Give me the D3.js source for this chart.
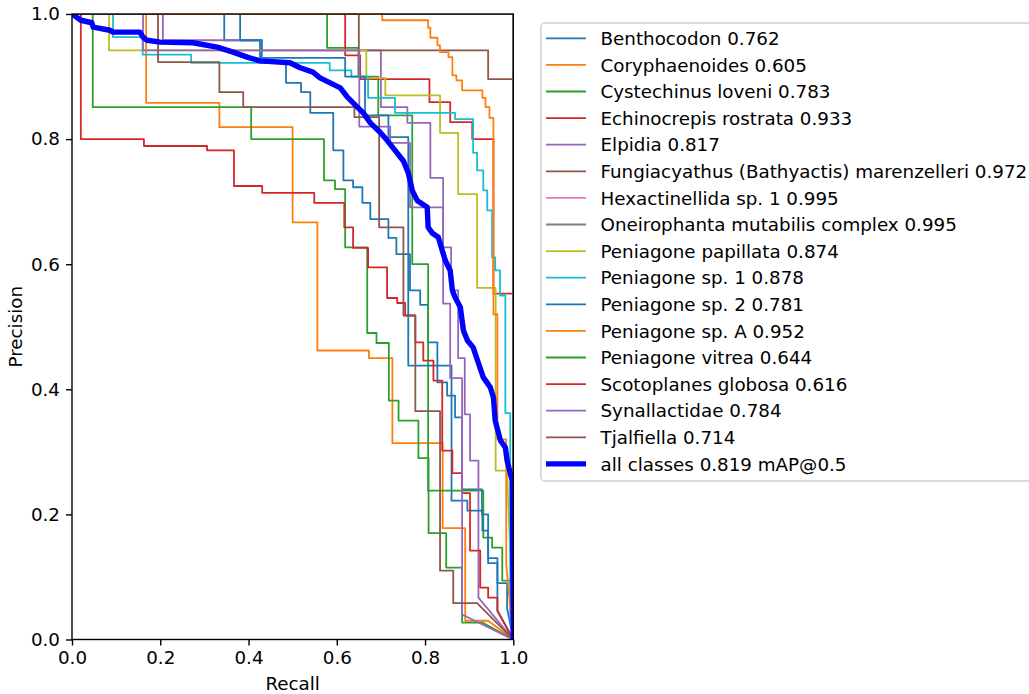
<!DOCTYPE html>
<html>
<head>
<meta charset="utf-8">
<script src="https://cdn.jsdelivr.net/npm/d3@7/dist/d3.min.js"></script>
<style>
  html, body { margin: 0; padding: 0; background: #fff; }
  svg { display: block; font-family: "DejaVu Sans", sans-serif; }
</style>
</head>
<body>
<svg id="chart" width="1029" height="694"></svg>
<script>
// Per-class precision-recall steps: each [recall, precision] marks where precision drops.
const classNames = [
  "Benthocodon", "Coryphaenoides", "Cystechinus loveni", "Echinocrepis rostrata",
  "Elpidia", "Fungiacyathus (Bathyactis) marenzelleri", "Hexactinellida sp. 1",
  "Oneirophanta mutabilis complex", "Peniagone papillata", "Peniagone sp. 1",
  "Peniagone sp. 2", "Peniagone sp. A", "Peniagone vitrea", "Scotoplanes globosa",
  "Synallactidae", "Tjalfiella"
];
const classAP = [0.762, 0.605, 0.783, 0.933, 0.817, 0.972, 0.995, 0.995,
                 0.874, 0.878, 0.781, 0.952, 0.644, 0.616, 0.784, 0.714];
const classColors = ["#1f77b4", "#ff7f0e", "#2ca02c", "#d62728", "#9467bd", "#8c564b",
                     "#e377c2", "#7f7f7f", "#bcbd22", "#17becf", "#1f77b4", "#ff7f0e",
                     "#2ca02c", "#d62728", "#9467bd", "#8c564b"];

const benthocodon = [[0,1],[0.345,0.958],[0.426,0.922],[0.485,0.89],[0.519,0.875],[0.54,0.842],
  [0.592,0.782],[0.615,0.734],[0.637,0.723],[0.658,0.698],[0.676,0.672],[0.717,0.642],
  [0.735,0.616],[0.766,0.558],[0.789,0.535],[0.807,0.475],[0.828,0.411],[0.85,0.39],
  [0.868,0.355],[0.884,0.24],[0.929,0.2],[0.943,0.13],[0.964,0.09],[0.986,0.05]];
const coryphaenoides = [[0,1],[0.168,0.858],[0.334,0.819],[0.5,0.667],[0.556,0.462],
  [0.673,0.45],[0.726,0.314],[0.84,0.178],[0.891,0.03],[0.943,0.03]];
const cystechinus = [[0,1],[0.578,0.946],[0.649,0.9],[0.694,0.838],[0.771,0.6],[0.807,0.238],
  [0.932,0.163],[0.952,0.147],[0.975,0.094],[0.993,0.094]];
const echinocrepis = [[0,1],[0.619,0.934],[0.653,0.896],[0.81,0.859],[0.857,0.827],
  [0.907,0.8],[0.955,0.553],[1,0.553]];
const elpidia = [[0,1],[0.206,0.958],[0.43,0.942],[0.7,0.851],[0.76,0.826],[0.812,0.738],
  [0.841,0.627],[0.859,0.558],[0.875,0.45],[0.89,0.36],[0.902,0.286],[0.921,0.067]];
const fungiacyathus = [[0,1],[0.65,0.942],[0.943,0.896],[1,0.896]];
const hexactinellida = [[0,1],[1,1]];
const oneirophanta = [[0,1],[1,1]];
const papillata = [[0,1],[0.084,0.942],[0.667,0.898],[0.71,0.87],[0.834,0.81],[0.875,0.712],
  [0.918,0.562],[0.96,0.27],[0.986,0.27]];
const peniagoneSp1 = [[0,1],[0.093,0.963],[0.16,0.935],[0.27,0.922],[0.584,0.91],[0.633,0.9],
  [0.671,0.866],[0.732,0.842],[0.868,0.832],[0.909,0.778],[0.918,0.75],[0.932,0.718],
  [0.941,0.686],[0.952,0.611],[0.959,0.59],[0.97,0.55],[0.982,0.362],[0.993,0.035]];
const peniagoneSp2 = [[0,1],[0.381,0.958],[0.43,0.93],[0.619,0.9],[0.664,0.838],[0.717,0.803],
  [0.762,0.438],[0.86,0.222],[0.896,0.206],[0.93,0.174],[0.943,0.122],[0.964,0.046]];
const peniagoneSpA = [[0,1],[0.703,0.99],[0.807,0.978],[0.812,0.962],[0.828,0.95],[0.834,0.939],
  [0.853,0.931],[0.862,0.902],[0.871,0.894],[0.884,0.878],[0.93,0.866],[0.937,0.851],
  [0.946,0.834],[0.955,0.52],[0.964,0.32],[0.984,0.12]];
const vitrea = [[0,1],[0.047,0.851],[0.406,0.8],[0.571,0.734],[0.596,0.72],[0.619,0.627],
  [0.669,0.49],[0.69,0.474],[0.718,0.382],[0.74,0.35],[0.785,0.29],[0.808,0.17],
  [0.848,0.115],[0.884,0.027],[0.93,0.027]];
const scotoplanes = [[0,1],[0.02,0.8],[0.163,0.789],[0.306,0.782],[0.367,0.725],[0.431,0.714],
  [0.549,0.698],[0.617,0.659],[0.637,0.626],[0.671,0.595],[0.714,0.546],[0.737,0.538],
  [0.755,0.518],[0.778,0.475],[0.796,0.446],[0.819,0.414],[0.839,0.302],[0.862,0.266],
  [0.884,0.234],[0.902,0.142],[0.925,0.083],[0.943,0.067],[0.964,0.046]];
const synallactidae = [[0,1],[0.161,0.942],[0.651,0.82],[0.721,0.794],[0.766,0.691],
  [0.841,0.537],[0.857,0.418],[0.884,0.04]];
const tjalfiella = [[0,1],[0.195,0.923],[0.334,0.875],[0.388,0.851],[0.64,0.835],[0.696,0.659],
  [0.751,0.518],[0.778,0.365],[0.834,0.11],[0.864,0.058],[0.918,0.058]];

// Mean curve over all classes (recall, precision)
const allClasses = [[0,1],[0.02,0.99],[0.045,0.986],[0.048,0.979],[0.086,0.974],[0.093,0.971],
  [0.154,0.971],[0.161,0.963],[0.17,0.958],[0.2,0.955],[0.274,0.954],[0.329,0.947],
  [0.365,0.939],[0.397,0.931],[0.426,0.925],[0.494,0.922],[0.517,0.914],[0.546,0.907],
  [0.562,0.898],[0.585,0.89],[0.608,0.882],[0.624,0.867],[0.637,0.858],[0.66,0.842],
  [0.676,0.826],[0.698,0.811],[0.714,0.798],[0.732,0.782],[0.751,0.765],[0.762,0.746],
  [0.771,0.718],[0.782,0.702],[0.805,0.691],[0.807,0.659],[0.816,0.65],[0.83,0.643],
  [0.839,0.622],[0.846,0.606],[0.857,0.59],[0.862,0.558],[0.868,0.547],[0.88,0.531],
  [0.887,0.494],[0.896,0.478],[0.909,0.467],[0.921,0.442],[0.932,0.419],[0.948,0.403],
  [0.955,0.387],[0.959,0.35],[0.971,0.318],[0.982,0.307],[0.986,0.286],[0.993,0.266],
  [0.998,0.254],[1,0]];
const allClassesLabel = "all classes 0.819 mAP@0.5";

const classCurves = [benthocodon, coryphaenoides, cystechinus, echinocrepis, elpidia,
  fungiacyathus, hexactinellida, oneirophanta, papillata, peniagoneSp1, peniagoneSp2,
  peniagoneSpA, vitrea, scotoplanes, synallactidae, tjalfiella];

const tickValues = [0, 0.2, 0.4, 0.6, 0.8, 1.0];

const svg = d3.select("#chart");
const x = d3.scaleLinear().domain([0, 1]).range([72, 513.3]);
const y = d3.scaleLinear().domain([0, 1]).range([639.5, 14]);

svg.append("rect").attr("width", 1029).attr("height", 694).attr("fill", "#fff");

svg.append("defs").append("clipPath").attr("id", "plotClip")
  .append("rect")
  .attr("x", x(0)).attr("y", y(1))
  .attr("width", x(1) - x(0)).attr("height", y(0) - y(1));

// Expand drop points into a step path that ends with a straight run to (1, 0)
function stepPath(pts) {
  const out = [];
  pts.forEach((p, i) => {
    if (i > 0) out.push([p[0], pts[i - 1][1]]);
    out.push(p);
  });
  out.push([1, 0]);
  return out;
}

const line = d3.line().x(d => x(d[0])).y(d => y(d[1]));

const plot = svg.append("g").attr("clip-path", "url(#plotClip)");

plot.selectAll("path.cls")
  .data(classCurves)
  .join("path")
  .attr("class", "cls")
  .attr("d", d => line(stepPath(d)))
  .attr("fill", "none")
  .attr("stroke", (d, i) => classColors[i])
  .attr("stroke-width", 1.8)
  .attr("stroke-linejoin", "round");

plot.append("path")
  .attr("d", line(allClasses))
  .attr("fill", "none")
  .attr("stroke", "#0000ff")
  .attr("stroke-width", 5.4)
  .attr("stroke-linejoin", "round");

// Axes
const fmt = d3.format(".1f");
const xAxis = svg.append("g")
  .attr("transform", `translate(0,${y(0)})`)
  .call(d3.axisBottom(x).tickValues(tickValues).tickFormat(fmt).tickSize(6).tickPadding(6).tickSizeOuter(0));
const yAxis = svg.append("g")
  .attr("transform", `translate(${x(0)},0)`)
  .call(d3.axisLeft(y).tickValues(tickValues).tickFormat(fmt).tickSize(6).tickPadding(6).tickSizeOuter(0));

[xAxis, yAxis].forEach(g => {
  g.select(".domain").remove();
  g.selectAll(".tick line").attr("stroke", "#000").attr("stroke-width", 1.4);
  g.selectAll(".tick text")
    .attr("fill", "#000")
    .style("font-size", "18.3px")
    .style("font-family", "'DejaVu Sans', sans-serif");
});

// Frame
svg.append("rect")
  .attr("x", x(0)).attr("y", y(1))
  .attr("width", x(1) - x(0)).attr("height", y(0) - y(1))
  .attr("fill", "none").attr("stroke", "#000").attr("stroke-width", 1.4);

svg.append("text")
  .attr("x", (x(0) + x(1)) / 2).attr("y", 690)
  .attr("text-anchor", "middle")
  .style("font-size", "18.3px")
  .text("Recall");

svg.append("text")
  .attr("transform", `translate(22,${(y(0) + y(1)) / 2}) rotate(-90)`)
  .attr("text-anchor", "middle")
  .style("font-size", "18.3px")
  .text("Precision");

// Legend
const legend = svg.append("g");
legend.append("rect")
  .attr("x", 541).attr("y", 23)
  .attr("width", 520).attr("height", 458)
  .attr("rx", 4)
  .attr("fill", "#fff")
  .attr("stroke", "#d0d0d0")
  .attr("stroke-width", 1.5);

const legendItems = classNames.map((n, i) => ({
  label: `${n} ${classAP[i].toFixed(3)}`, color: classColors[i], width: 1.8
}));
legendItems.push({ label: allClassesLabel, color: "#0000ff", width: 5.4 });

const rows = legend.selectAll("g.row")
  .data(legendItems)
  .join("g")
  .attr("class", "row")
  .attr("transform", (d, i) => `translate(0,${38.3 + i * 26.6})`);

rows.append("line")
  .attr("x1", 546).attr("x2", 586)
  .attr("y1", 0).attr("y2", 0)
  .attr("stroke", d => d.color)
  .attr("stroke-width", d => d.width);

rows.append("text")
  .attr("x", 600.5).attr("y", 6.7)
  .style("font-size", "18.3px")
  .attr("fill", "#000")
  .text(d => d.label);
</script>
</body>
</html>
